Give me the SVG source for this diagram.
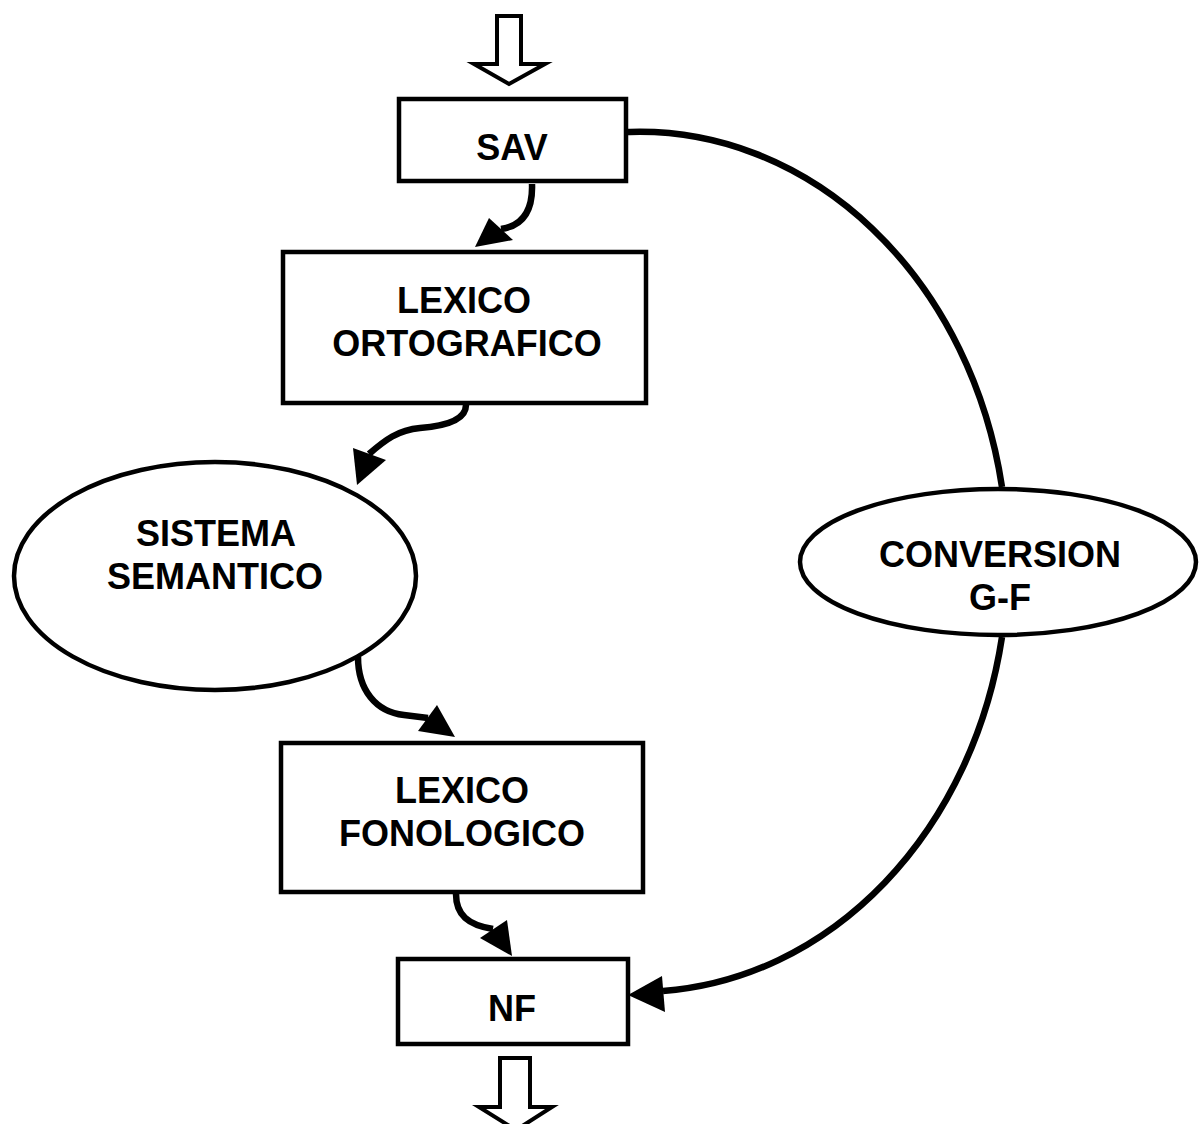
<svg xmlns="http://www.w3.org/2000/svg" width="1199" height="1124" viewBox="0 0 1199 1124">
<style>
.box{fill:#fff;stroke:#000;stroke-width:4.5}
.hollow{fill:#fff;stroke:#000;stroke-width:4;stroke-linejoin:miter}
.lbl{font-family:"Liberation Sans",Arial,sans-serif;font-weight:bold;font-size:36px;fill:#000;text-anchor:middle}
.conn{fill:none;stroke:#000;stroke-width:6.5}
.head{fill:#000;stroke:none}
</style>
<rect width="1199" height="1124" fill="#fff"/>
<g id="input-arrow">
<polygon class="hollow" points="497,16 521,16 521,64 545,64 509,84 474,64 497,64"/>
</g>
<g id="output-arrow">
<polygon class="hollow" points="500,1058 530,1058 530,1107 552,1107 516,1130 479,1107 500,1107"/>
</g>
<g id="connectors">
<path class="conn" d="M532,184 C533,212 522,226 501,229"/>
<polygon class="head" points="475,247 489,218 513,240"/>
<path class="conn" d="M466,405 C466,420 446,426 420,428 C398,430 385,440 369,454"/>
<polygon class="head" points="357,485 353,448 386,460"/>
<path class="conn" d="M358,657 C358,690 376,712 404,715 L428,718"/>
<polygon class="head" points="455,737 437,705 418,731"/>
<path class="conn" d="M456,894 C456,915 468,925 493,929"/>
<polygon class="head" points="512,956 507,920 480,938"/>
<path class="conn" d="M628,132 L630,132 A368,430 0 0 1 1002,487"/>
<path class="conn" d="M1002,637 A368,430 0 0 1 663,991"/>
<polygon class="head" points="628,995 662,976 665,1012"/>
</g>
<g id="sav">
<rect class="box" x="399" y="99" width="227" height="82"/>
<text class="lbl" x="512" y="160">SAV</text>
</g>
<g id="lexico-ortografico">
<rect class="box" x="283" y="252" width="363" height="151"/>
<text class="lbl" x="464" y="313">LEXICO</text>
<text class="lbl" x="467" y="356">ORTOGRAFICO</text>
</g>
<g id="sistema-semantico">
<ellipse class="box" cx="215" cy="576" rx="201" ry="114"/>
<text class="lbl" x="216" y="546">SISTEMA</text>
<text class="lbl" x="215" y="589">SEMANTICO</text>
</g>
<g id="conversion-gf">
<ellipse class="box" cx="998" cy="562" rx="198" ry="73"/>
<text class="lbl" x="1000" y="567">CONVERSION</text>
<text class="lbl" x="1000" y="610">G-F</text>
</g>
<g id="lexico-fonologico">
<rect class="box" x="281" y="743" width="362" height="149"/>
<text class="lbl" x="462" y="803">LEXICO</text>
<text class="lbl" x="462" y="846">FONOLOGICO</text>
</g>
<g id="nf">
<rect class="box" x="398" y="959" width="230" height="85"/>
<text class="lbl" x="512" y="1021">NF</text>
</g>
</svg>
